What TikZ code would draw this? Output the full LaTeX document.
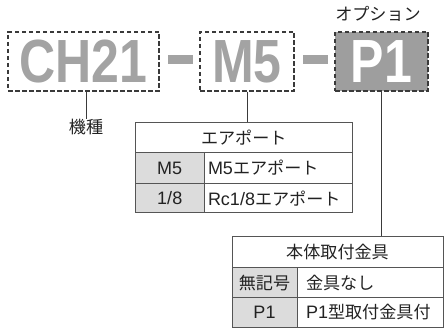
\documentclass[tikz,border=0pt]{standalone}
\usepackage{fontspec}
\setmainfont{Liberation Sans}
\newfontfamily\jp[Scale=0.95]{Noto Sans CJK JP}
\definecolor{codegray}{HTML}{A3A3A3}
\definecolor{boxfill}{HTML}{9E9E9E}
\definecolor{dashc}{HTML}{3A3A3A}
\definecolor{linec}{HTML}{555555}
\definecolor{cellfill}{HTML}{DCDCDC}
\definecolor{txt}{HTML}{222222}
\tikzset{
  codebox/.style={draw=dashc, line width=1.3pt, dash pattern=on 4.5pt off 2.5pt, inner sep=0pt, minimum height=59pt},
  codetxt/.style={text=codegray, font=\fontsize{61}{61}\bfseries\selectfont},
  hbar/.style={fill=codegray, draw=none},
  cell/.style={draw=linec, line width=1pt, inner sep=0pt, text=txt, font=\fontsize{18}{20}\selectfont},
  keycell/.style={cell, fill=cellfill},
  conn/.style={draw=dashc, line width=1pt},
  lbl/.style={text=txt, font=\fontsize{18}{20}\selectfont, inner sep=0pt}
}
\begin{document}
\begin{tikzpicture}[x=1pt,y=-1pt]
\useasboundingbox (0,0) rectangle (444,328);
% code boxes
\node[codebox, codetxt, minimum width=151pt] (ch) at (83.5,61.5) {\scalebox{0.82}[1]{CH21}};
\node[codebox, codetxt, minimum width=94pt] (m5) at (247,61.5) {\scalebox{0.82}[1]{M5}};
\node[codebox, codetxt, minimum width=93pt, fill=boxfill, text=white] (p1) at (381.5,61.5) {\scalebox{0.82}[1]{P1}};
\node[lbl] (opt) at (378,14) {\jp オプション};
% hyphen bars
\fill[hbar] (168,55.5) rectangle (193,64);
\fill[hbar] (303,55.5) rectangle (328,64);
% label 機種
\node[lbl, anchor=north] (kishu) at (86,119) {\jp 機種};
\draw[conn] (kishu.north |- ch.south) -- (kishu.north);
% table 1
\node[cell, minimum width=216.5pt, minimum height=30pt] (t1h) at (243.75,137.7) {\jp エアポート};
\node[keycell, minimum width=68.5pt, minimum height=30.6pt] (t1k1) at (169.75,168) {M5};
\node[cell, minimum width=148pt, minimum height=30.6pt, text width=140pt, align=left] (t1v1) at (278,168) {M5{\jp エアポート}};
\node[keycell, minimum width=68.5pt, minimum height=29.7pt] (t1k2) at (169.75,198.15) {1/8};
\node[cell, minimum width=148pt, minimum height=29.7pt, text width=140pt, align=left] (t1v2) at (278,198.15) {Rc1/8{\jp エアポート}};
\draw[conn] (m5.south) -- (m5.south |- t1h.north);
% table 2
\node[cell, minimum width=211pt, minimum height=31.3pt] (t2h) at (337.5,252.35) {\jp 本体取付金具};
\node[keycell, minimum width=65pt, minimum height=30pt] (t2k1) at (264.5,283) {\jp 無記号};
\node[cell, minimum width=146pt, minimum height=30pt, text width=128pt, align=left] (t2v1) at (370,283) {\jp 金具なし};
\node[keycell, minimum width=65pt, minimum height=29pt] (t2k2) at (264.5,312.5) {P1};
\node[cell, minimum width=146pt, minimum height=29pt, text width=128pt, align=left] (t2v2) at (370,312.5) {P1{\jp 型取付金具付}};
\draw[conn] (p1.south) -- (p1.south |- t2h.north);
\end{tikzpicture}
\end{document}
